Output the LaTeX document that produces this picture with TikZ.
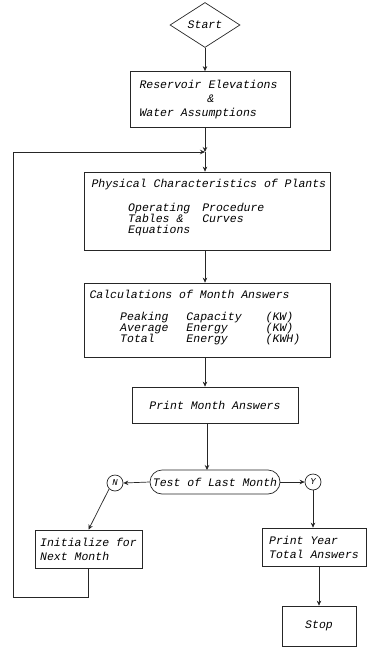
\documentclass[tikz,border=0pt]{standalone}
\usepackage{fontspec}
\newfontfamily\hand{Liberation Mono}
\usetikzlibrary{shapes.geometric,arrows.meta}
\begin{document}
\begin{tikzpicture}[x=1pt,y=-1pt,
  every node/.style={font=\hand\itshape\fontsize{11.5}{14}\selectfont},
  line/.style={draw=black!85,line width=0.7pt},
  arr/.style={line,-{Stealth[length=5pt,width=4.5pt]}},
  proc/.style={line,rectangle,inner sep=0pt,align=center},
  conn/.style={line,circle,minimum size=16pt,inner sep=0pt,font=\hand\itshape\fontsize{9}{10}\selectfont}]
\useasboundingbox (0,0) rectangle (368,648);
\node[line,diamond,minimum width=70pt,minimum height=45pt,inner sep=0pt] (start) at (205,25) {Start};
\node[proc,minimum width=160pt,minimum height=56pt] (b1) at (210,99.5) {};
\node[anchor=north west,align=left] (b1t) at (136,77) {Reservoir Elevations\\\hspace*{5.9em}\&\\Water Assumptions};
\coordinate (j) at (205,152);
\node[proc,minimum width=246pt,minimum height=78pt] (b2) at (207,211) {};
\node[anchor=north west] (b2h) at (88,176) {Physical Characteristics of Plants};
\node[anchor=north west,inner sep=0pt] (b2l) at (128,201) {\begin{tabular}{@{}l@{\hspace{12pt}}l@{}}Operating & Procedure\\[-3pt] Tables \& & Curves\\[-3pt] Equations & \end{tabular}};
\node[proc,minimum width=246pt,minimum height=74pt] (b3) at (207,320) {};
\node[anchor=north west] (b3h) at (86,287) {Calculations of Month Answers};
\node[anchor=north west,inner sep=0pt] (b3l) at (120,310) {\begin{tabular}{@{}l@{\hspace{18pt}}l@{\hspace{24pt}}l@{}}Peaking & Capacity & (KW)\\[-3pt] Average & Energy & (KW)\\[-3pt] Total & Energy & (KWH)\end{tabular}};
\node[proc,minimum width=166pt,minimum height=36pt] (b4) at (215,405) {Print Month Answers};
\node[line,rectangle,rounded corners=12pt,minimum width=130pt,minimum height=24pt,inner sep=0pt] (test) at (215,482) {Test of Last Month};
\node[conn] (n) at (115,483) {N};
\node[conn] (y) at (313,482) {Y};
\node[proc,minimum width=107pt,minimum height=38pt,align=left] (init) at (88.5,549) {Initialize for\\Next Month};
\node[proc,minimum width=104pt,minimum height=38pt,align=left] (year) at (314,547) {Print Year\\Total Answers};
\node[proc,minimum width=74pt,minimum height=40pt] (stop) at (319,626) {Stop};
\coordinate (l1) at (88,597);
\coordinate (l2) at (13,597);
\coordinate (l3) at (13,152);
\draw[arr] (start.south) -- (start.south |- b1.north);
\draw[arr] (j |- b1.south) -- (j);
\draw[arr] (j) -- (j |- b2.north);
\draw[arr] (j |- b2.south) -- (j |- b3.north);
\draw[arr] (j |- b3.south) -- (j |- b4.north);
\draw[arr] (207,423) -- (207,470);
\draw[arr] (test.west) -- (n.east);
\draw[arr] (test.east) -- (y.west);
\draw[arr] (n.south west) -- (init.north);
\draw[arr] (y.south) -- (y.south |- year.north);
\draw[arr] (year.south -| stop.north) -- (stop.north);
\draw[arr] (init.south -| l1) -- (l1) -- (l2) -- (l3) -- (j);
\end{tikzpicture}
\end{document}
